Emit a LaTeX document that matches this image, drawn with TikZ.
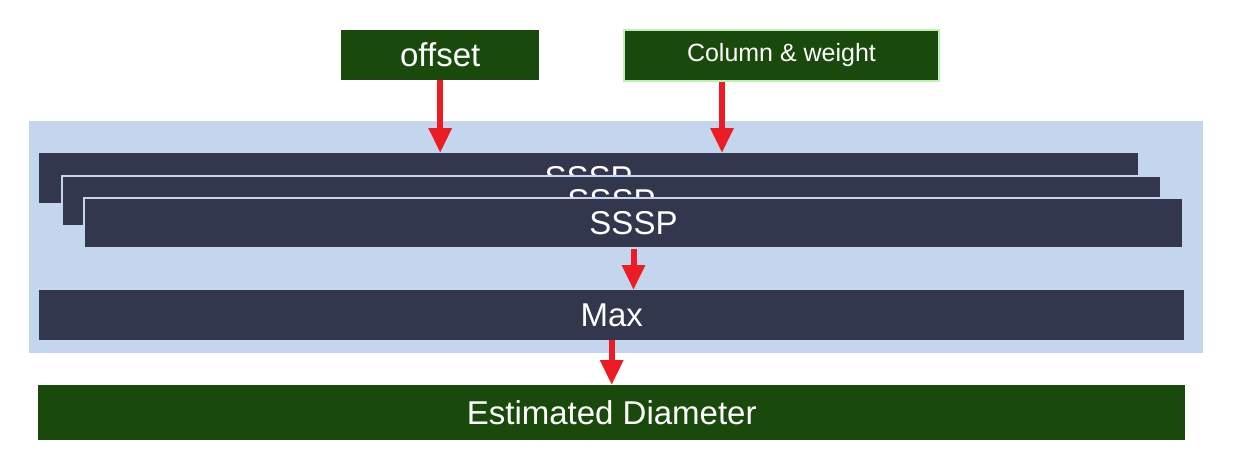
\documentclass[tikz,border=0pt]{standalone}
\usepackage{fontspec}
\setmainfont{Liberation Sans}
\usetikzlibrary{arrows.meta}
\definecolor{dkgreen}{RGB}{25,74,12}
\definecolor{ltgreen}{RGB}{190,240,180}
\definecolor{ltblue}{RGB}{196,213,238}
\definecolor{navy}{RGB}{50,55,77}
\definecolor{arrred}{RGB}{237,28,36}
\tikzset{
  gbox/.style={fill=dkgreen, text=white, inner sep=0pt, anchor=north west},
  nbox/.style={fill=navy, text=white, inner sep=0pt, anchor=north west, minimum width=1099pt, minimum height=50pt},
  nboxb/.style={nbox, draw=ltblue, line width=2pt},
  bigtxt/.style={font=\fontsize{33}{38}\selectfont},
  smtxt/.style={font=\fontsize{25}{30}\selectfont},
  redarr/.style={draw=arrred, line width=6pt, -{Triangle[width=22pt,length=25pt]}},
}
\begin{document}
\begin{tikzpicture}[x=1pt,y=-1pt]
\useasboundingbox[fill=white] (0,0) rectangle (1233,459);
% container
\node[fill=ltblue, inner sep=0pt, anchor=north west, minimum width=1174pt, minimum height=232pt] (cont) at (29,121) {};
% inputs
\node[gbox, bigtxt, minimum width=198pt, minimum height=50pt] (off) at (341,30) {offset};
\node[gbox, smtxt, draw=ltgreen, line width=2pt, minimum width=315pt, minimum height=51pt] (col) at (623,29) {Column \& weight};
% SSSP stack
\node[nbox, bigtxt] (s1) at (39,153) {SSSP};
\node[nboxb, bigtxt] (s2) at (61,175) {SSSP};
\node[nboxb, bigtxt] (s3) at (83,197) {SSSP};
% Max
\node[nbox, bigtxt, minimum width=1145pt] (mx) at (39,290) {Max};
% output
\node[gbox, bigtxt, minimum width=1147pt, minimum height=55pt] (est) at (38,385) {Estimated Diameter};
% arrows
\coordinate (a2) at (722,0);
\draw[redarr] (off.south) -- (s1.north -| off.south);
\draw[redarr] (col.south -| a2) -- (s1.north -| a2);
\draw[redarr] (s3.south) -- (mx.north -| s3.south);
\draw[redarr] (mx.south) -- (est.north);
\end{tikzpicture}
\end{document}
